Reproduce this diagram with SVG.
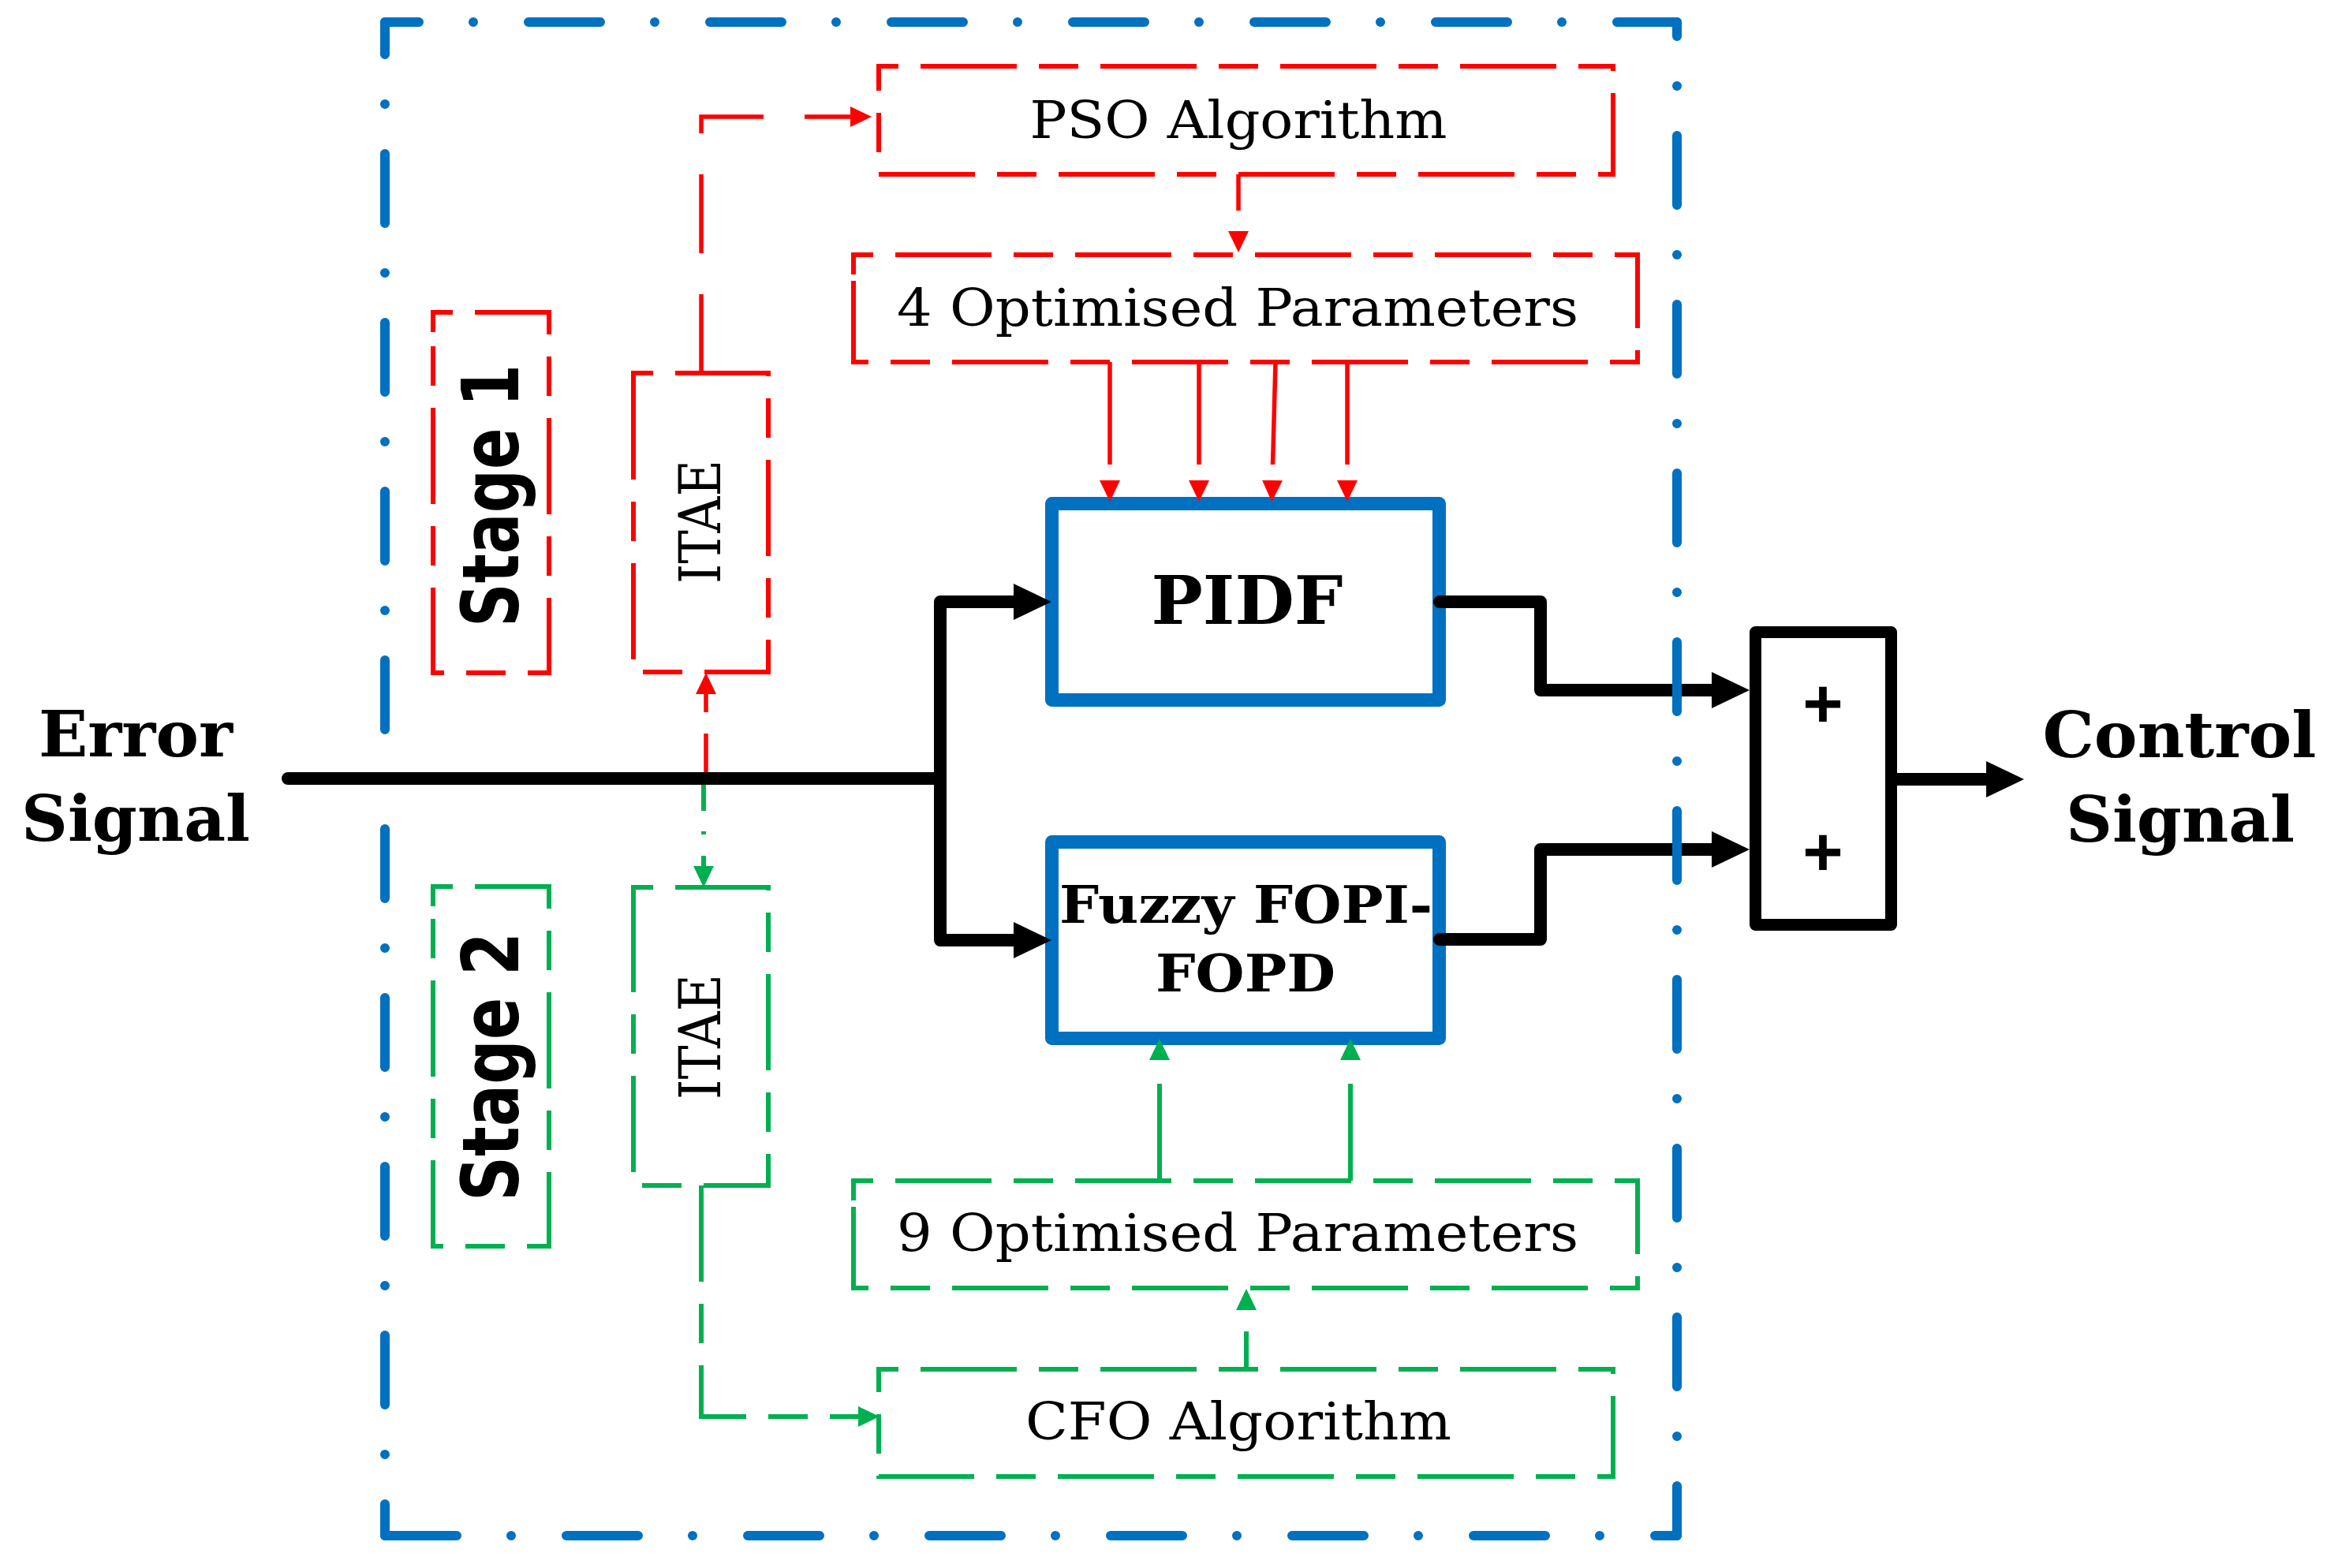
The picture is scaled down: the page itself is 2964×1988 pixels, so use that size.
<svg xmlns="http://www.w3.org/2000/svg" width="2964" height="1988" viewBox="0 0 2964 1988">
<style>
.rbox{fill:none;stroke:#FF0000;stroke-width:6;stroke-dasharray:50 28 122 28}
.gbox{fill:none;stroke:#00B050;stroke-width:6;stroke-dasharray:50 28 122 28}
.bbox{fill:#FFFFFF;stroke:#0070C0;stroke-width:17;stroke-linejoin:round}
.sum{fill:#FFFFFF;stroke:#000000;stroke-width:15;stroke-linejoin:round}
.blue{fill:none;stroke:#0070C0;stroke-width:12;stroke-linecap:round}
.bh{stroke-dasharray:91 69 0 70}
.bv{stroke-dasharray:88 63 0 63}
.rc{fill:none;stroke:#FF0000;stroke-width:5.5}
.gc{fill:none;stroke:#00B050;stroke-width:6}
.kc{fill:none;stroke:#000000;stroke-width:16;stroke-linecap:round;stroke-linejoin:round}
.ts{font-family:"DejaVu Serif","Liberation Serif",serif;font-size:66px;fill:#000;text-anchor:middle}
.tsb{font-family:"DejaVu Serif","Liberation Serif",serif;font-weight:bold;fill:#000;text-anchor:middle}
.tst{font-family:"DejaVu Sans","Liberation Sans",sans-serif;font-weight:bold;font-size:100px;fill:#000;text-anchor:middle}
.tit{font-family:"DejaVu Serif","Liberation Serif",serif;font-size:73px;fill:#000;text-anchor:middle}
.plus{font-family:"Liberation Sans","DejaVu Sans",sans-serif;font-weight:bold;font-size:88px;fill:#000;text-anchor:middle}
</style>
<defs>
<marker id="arrR" markerUnits="userSpaceOnUse" viewBox="0 -14 27 28" refX="0" refY="0" markerWidth="27" markerHeight="28" orient="auto">
<path d="M0,-13 L27,0 L0,13 Z" fill="#FF0000"/>
</marker>
<marker id="arrG" markerUnits="userSpaceOnUse" viewBox="0 -14 27 28" refX="0" refY="0" markerWidth="27" markerHeight="28" orient="auto">
<path d="M0,-13 L27,0 L0,13 Z" fill="#00B050"/>
</marker>
<marker id="arrK" markerUnits="userSpaceOnUse" viewBox="0 -23 48 46" refX="0" refY="0" markerWidth="48" markerHeight="46" orient="auto">
<path d="M0,-23 L48,0 L0,23 Z" fill="#000000"/>
</marker>
</defs>
<rect x="0" y="0" width="2964" height="1988" fill="#FFFFFF"/>

<g id="boundary-a">
<path class="blue bh" d="M488,28 H2126" stroke-dashoffset="48"/>
<path class="blue bv" d="M488,28 V1947" stroke-dashoffset="47"/>
<path class="blue bh" d="M488,1947 H2126" stroke-dashoffset="0"/>
</g>

<g id="node-pso">
<path class="rbox" d="M1114,109 V84 H2045 V221 H1114 Z"/>
<text class="ts" x="1570" y="175" textLength="529" lengthAdjust="spacingAndGlyphs">PSO Algorithm</text>
</g>
<g id="node-opt4">
<path class="rbox" d="M1082,348 V323 H2076 V459 H1082 Z"/>
<text class="ts" x="1569" y="413" textLength="864" lengthAdjust="spacingAndGlyphs">4 Optimised Parameters</text>
</g>
<g id="node-stage1">
<path class="rbox" d="M549,421 V396 H696 V853 H549 Z"/>
<text class="tst" transform="translate(657,628.5) rotate(-90)" x="0" y="0" textLength="333" lengthAdjust="spacingAndGlyphs">Stage 1</text>
</g>
<g id="node-itae1">
<path class="rbox" d="M803,498 V473 H974 V852 H803 Z"/>
<text class="tit" transform="translate(913,661.5) rotate(-90)" x="0" y="0" textLength="157" lengthAdjust="spacingAndGlyphs">ITAE</text>
</g>
<g id="node-stage2">
<path class="gbox" d="M549,1149 V1124 H696 V1580 H549 Z"/>
<text class="tst" transform="translate(657,1352.5) rotate(-90)" x="0" y="0" textLength="341" lengthAdjust="spacingAndGlyphs">Stage 2</text>
</g>
<g id="node-itae2">
<path class="gbox" d="M803,1150 V1125 H974 V1503 H803 Z"/>
<text class="tit" transform="translate(913,1314.5) rotate(-90)" x="0" y="0" textLength="159" lengthAdjust="spacingAndGlyphs">ITAE</text>
</g>
<g id="node-opt9">
<path class="gbox" d="M1082,1522 V1497 H2076 V1633 H1082 Z"/>
<text class="ts" x="1569" y="1586" textLength="864" lengthAdjust="spacingAndGlyphs">9 Optimised Parameters</text>
</g>
<g id="node-cfo">
<path class="gbox" d="M1114,1761 V1736 H2045 V1872 H1114 Z"/>
<text class="ts" x="1570" y="1825" textLength="540" lengthAdjust="spacingAndGlyphs">CFO Algorithm</text>
</g>
<g id="node-pidf">
<rect class="bbox" x="1333.5" y="638.5" width="491" height="249"/>
<text class="tsb" x="1581" y="791" font-size="84" textLength="243" lengthAdjust="spacingAndGlyphs">PIDF</text>
</g>
<g id="node-fuzzy">
<rect class="bbox" x="1333.5" y="1067.5" width="491" height="249"/>
<text class="tsb" x="1579.5" y="1170" font-size="66" textLength="473" lengthAdjust="spacingAndGlyphs">Fuzzy FOPI-</text>
<text class="tsb" x="1579" y="1257" font-size="66" textLength="228" lengthAdjust="spacingAndGlyphs">FOPD</text>
</g>
<g id="node-sum">
<rect class="sum" x="2225.5" y="801.5" width="172" height="371"/>
<text class="plus" x="2311" y="922">+</text>
<text class="plus" x="2311" y="1110">+</text>
</g>
<g id="label-error">
<text class="tsb" x="172" y="959" font-size="80" textLength="246" lengthAdjust="spacingAndGlyphs">Error</text>
<text class="tsb" x="172" y="1066" font-size="80" textLength="290" lengthAdjust="spacingAndGlyphs">Signal</text>
</g>
<g id="label-control">
<text class="tsb" x="2763" y="960" font-size="80" textLength="347" lengthAdjust="spacingAndGlyphs">Control</text>
<text class="tsb" x="2764" y="1067" font-size="80" textLength="290" lengthAdjust="spacingAndGlyphs">Signal</text>
</g>

<g id="connectors">
<path class="rc" d="M889,473 V148 H1078" stroke-dasharray="100 52" marker-end="url(#arrR)"/>
<path class="rc" d="M1570,221 V293" stroke-dasharray="46 100" marker-end="url(#arrR)"/>
<path class="rc" d="M1407,459 V609" stroke-dasharray="130 100" marker-end="url(#arrR)"/>
<path class="rc" d="M1520,459 V609" stroke-dasharray="130 100" marker-end="url(#arrR)"/>
<path class="rc" d="M1617,459 L1613,609" stroke-dasharray="130 100" marker-end="url(#arrR)"/>
<path class="rc" d="M1708,459 V609" stroke-dasharray="130 100" marker-end="url(#arrR)"/>
<path class="rc" d="M895,987 V880" stroke-dasharray="57 27 50" marker-end="url(#arrR)"/>
<path class="gc" d="M892,987 V1098" stroke-dasharray="41 26 4 27 100" marker-end="url(#arrG)"/>
<path class="gc" d="M889,1503 V1796 H1088" stroke-dasharray="122 28 50 28" marker-end="url(#arrG)"/>
<path class="gc" d="M1580,1736 V1661" stroke-dasharray="48 100" marker-end="url(#arrG)"/>
<path class="gc" d="M1470,1497 V1344" stroke-dasharray="123 100" marker-end="url(#arrG)"/>
<path class="gc" d="M1712,1497 V1344" stroke-dasharray="123 100" marker-end="url(#arrG)"/>
<path class="kc" d="M365,987 H1192 V763 H1285" marker-end="url(#arrK)"/>
<path class="kc" d="M1192,987 V1192 H1285" marker-end="url(#arrK)"/>
<path class="kc" d="M1825,763 H1953 V875 H2170" marker-end="url(#arrK)"/>
<path class="kc" d="M1825,1191 H1953 V1077 H2170" marker-end="url(#arrK)"/>
<path class="kc" d="M2405,988 H2518" marker-end="url(#arrK)"/>
</g>

<g id="boundary-b">
<path class="blue bv" d="M2126,28 V1947" stroke-dashoffset="70"/>
</g>
</svg>
